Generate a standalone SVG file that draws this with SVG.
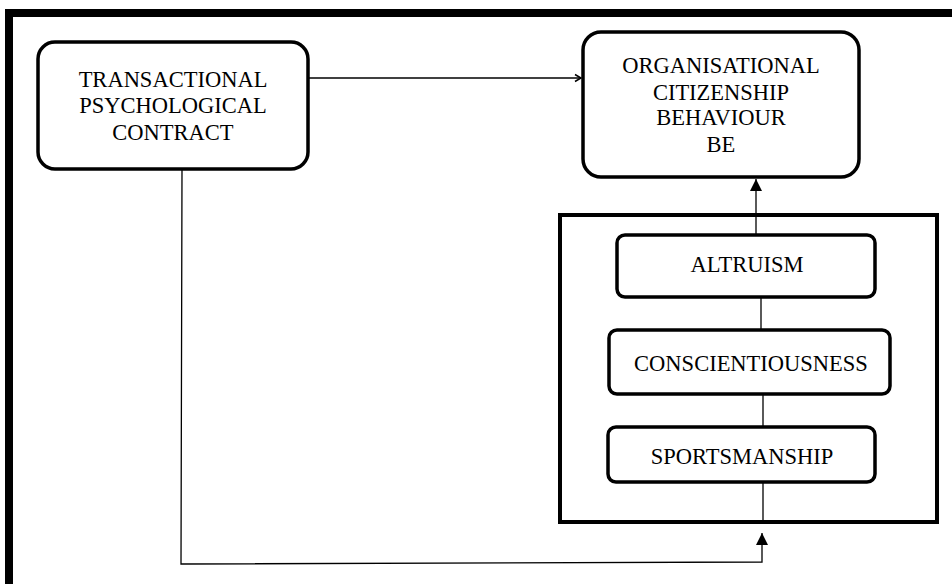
<svg xmlns="http://www.w3.org/2000/svg" width="952" height="584" viewBox="0 0 952 584">
<style>
.node{fill:#fff;stroke:#000;stroke-width:3.5}
.txt{font-family:"Liberation Serif","Times New Roman",serif;font-size:22.5px;fill:#000;text-anchor:middle}
.conn{stroke:#000;stroke-width:1.3;fill:none}
</style>
<defs>
<marker id="open" markerWidth="10" markerHeight="10" refX="8" refY="5" orient="auto" markerUnits="userSpaceOnUse">
<path d="M2,1.5 L8,5 L2,8.5" fill="none" stroke="#000" stroke-width="1.5"/>
</marker>
<marker id="fill" markerWidth="14" markerHeight="14" refX="12" refY="6" orient="auto" markerUnits="userSpaceOnUse">
<path d="M0,0 L12,6 L0,12 Z" fill="#000"/>
</marker>
</defs>
<rect width="952" height="584" fill="#fff"/>
<path d="M9,600 V13 H960" fill="none" stroke="#000" stroke-width="8"/>
<g id="connectors">
<line class="conn" x1="308" y1="78" x2="581" y2="78" marker-end="url(#open)"/>
<line class="conn" x1="756" y1="235" x2="756" y2="179" marker-end="url(#fill)"/>
<line class="conn" x1="761" y1="297" x2="761" y2="330"/>
<line class="conn" x1="763" y1="395" x2="763" y2="428"/>
<line class="conn" x1="763" y1="482" x2="763" y2="522"/>
<polyline class="conn" points="182,169 181,564 762,562 762,533" marker-end="url(#fill)"/>
</g>
<g id="container">
<rect x="560" y="215" width="377" height="307" fill="none" stroke="#000" stroke-width="4"/>
</g>
<g id="tpc">
<rect class="node" x="38" y="42" width="270" height="127" rx="17"/>
<text class="txt" x="173" y="87">TRANSACTIONAL</text>
<text class="txt" x="173" y="113">PSYCHOLOGICAL</text>
<text class="txt" x="173" y="140">CONTRACT</text>
</g>
<g id="ocb">
<rect class="node" x="583" y="32" width="276" height="145" rx="18"/>
<text class="txt" x="721" y="73">ORGANISATIONAL</text>
<text class="txt" x="721" y="100">CITIZENSHIP</text>
<text class="txt" x="721" y="125">BEHAVIOUR</text>
<text class="txt" x="721" y="152">BE</text>
</g>
<g id="altruism">
<rect class="node" x="617" y="235" width="258" height="62" rx="8"/>
<text class="txt" x="747" y="272">ALTRUISM</text>
</g>
<g id="conscientiousness">
<rect class="node" x="609" y="330" width="281" height="64" rx="8"/>
<text class="txt" x="751" y="371">CONSCIENTIOUSNESS</text>
</g>
<g id="sportsmanship">
<rect class="node" x="608" y="427" width="267" height="55" rx="8"/>
<text class="txt" x="742" y="464">SPORTSMANSHIP</text>
</g>
</svg>
